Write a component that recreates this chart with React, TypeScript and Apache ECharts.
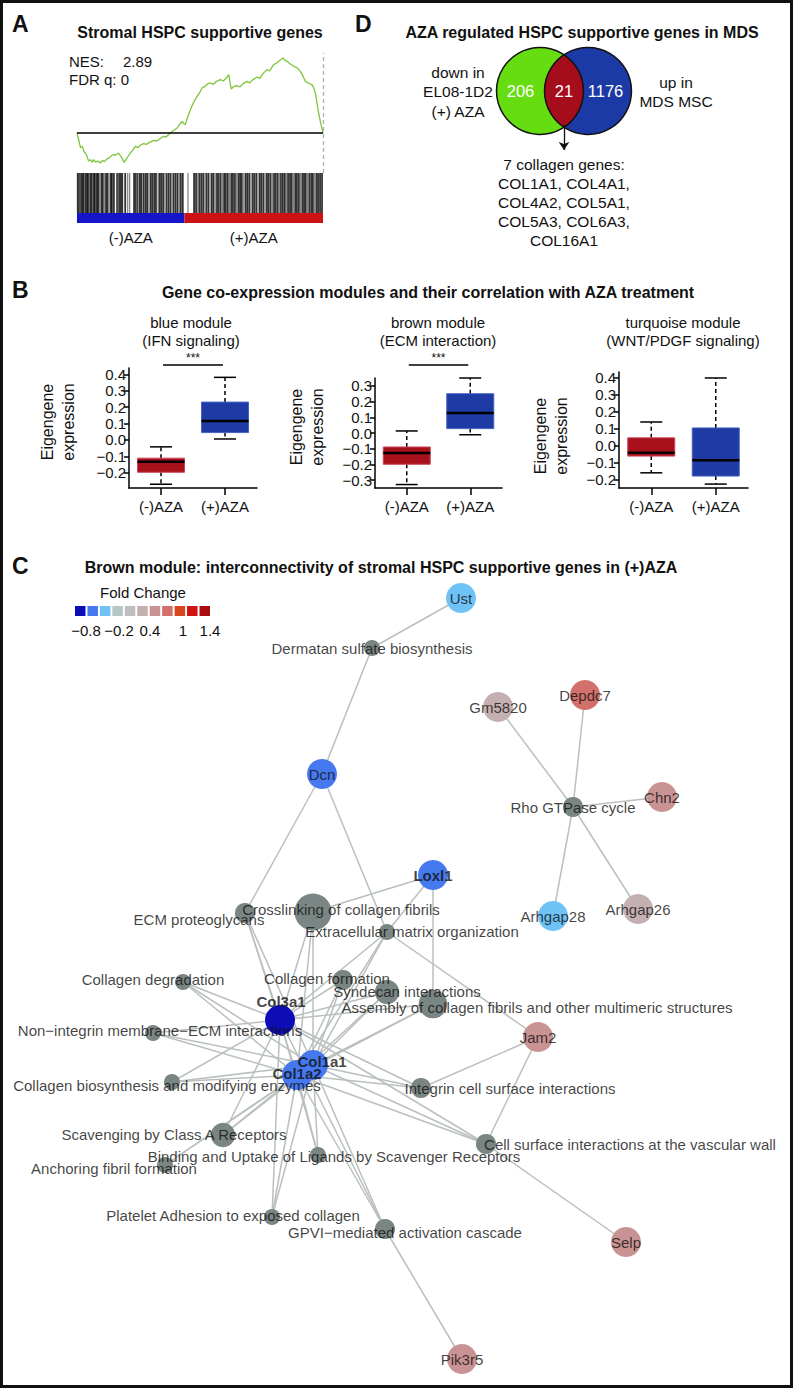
import React, { useEffect, useRef } from "react";
import * as echarts from "echarts";

const SANS = '"Liberation Sans", Arial, Helvetica, sans-serif';
const NARROW = '"Liberation Sans Narrow", "Arial Narrow", "Liberation Sans", sans-serif';

// ---------------- Panel A: GSEA running enrichment ----------------
const esRanks = [0, 0.8, 1.4, 2.2, 2.8, 3.4, 4.0, 4.7, 5.5, 6.2, 6.8, 7.6, 8.4, 9.5, 10.4, 11.2, 12.2, 13.2, 14.0, 14.9, 15.8, 16.9, 17.8, 18.6, 19.2, 20.2, 21.7, 22.6, 23.7, 24.8, 25.8, 27.1, 28.2, 29.5, 31.2, 32.4, 33.6, 35.2, 36.2, 37.9, 39.0, 40.7, 41.5, 42.7, 43.4, 44.0, 45.0, 46.1, 47.4, 48.8, 49.8, 50.8, 52.0, 53.2, 54.2, 55.4, 56.5, 58.3, 59.5, 60.6, 61.7, 62.2, 62.7, 63.8, 65.0, 66.2, 67.5, 69.1, 70.2, 71.5, 73.2, 74.3, 75.6, 77.2, 78.3, 79.9, 81.2, 82.5, 83.7, 84.5, 85.4, 86.6, 88.1, 89.4, 90.8, 91.8, 92.8, 94.0, 95.5, 96.2, 96.9, 97.6, 98.2, 99.0, 100];
const esScores = [0, -0.06, -0.11, -0.1, -0.14, -0.15, -0.17, -0.21, -0.2, -0.22, -0.2, -0.22, -0.21, -0.225, -0.205, -0.215, -0.195, -0.185, -0.17, -0.163, -0.165, -0.15, -0.175, -0.2, -0.22, -0.19, -0.15, -0.13, -0.1, -0.11, -0.09, -0.08, -0.085, -0.07, -0.055, -0.06, -0.045, -0.025, -0.03, 0.0, 0.015, 0.0375, 0.06, 0.0875, 0.07, 0.0625, 0.12, 0.175, 0.23, 0.275, 0.3, 0.3375, 0.35, 0.37, 0.375, 0.365, 0.385, 0.4, 0.39, 0.41, 0.4375, 0.38, 0.33, 0.35, 0.355, 0.345, 0.37, 0.3875, 0.375, 0.4, 0.42, 0.41, 0.445, 0.475, 0.465, 0.5125, 0.525, 0.545, 0.5625, 0.545, 0.5375, 0.52, 0.5, 0.49, 0.4625, 0.43, 0.3875, 0.375, 0.3625, 0.34, 0.3, 0.22, 0.15, 0.08, 0];
const hitRanksStrong = [0.3, 0.9, 1.6, 2.2, 2.7, 3.5, 4.1, 4.6, 5.4, 6.0, 6.8, 7.3, 8.1, 8.6, 9.9, 10.5, 11.8, 12.4, 13.7, 14.2, 15.0, 16.3, 17.1, 17.8, 18.4, 19.6, 23.2, 23.9, 24.6, 25.5, 26.1, 27.0, 27.8, 28.5, 29.9, 30.6, 31.4, 32.1, 33.5, 34.2, 35.0, 36.4, 37.2, 38.0, 39.3, 40.1, 40.9, 42.2, 43.0, 47.6, 48.4, 49.7, 50.5, 51.3, 52.6, 53.4, 54.8, 55.5, 56.9, 57.6, 58.4, 59.8, 60.5, 61.3, 62.7, 63.4, 64.2, 65.6, 66.3, 67.0, 68.5, 69.2, 70.0, 71.4, 72.1, 72.9, 74.3, 75.0, 75.8, 77.2, 77.9, 78.7, 80.1, 80.8, 81.6, 82.9, 83.7, 84.5, 85.8, 86.6, 87.3, 88.7, 89.4, 90.2, 91.6, 92.3, 93.0, 94.4, 95.2, 95.9, 97.3, 98.0, 98.8, 99.6];
const hitRanksWeak = [1.2, 5.0, 9.2, 11.1, 13.0, 16.7, 20.6, 21.4, 24.2, 29.2, 33.0, 35.7, 38.7, 41.6, 45.1, 49.1, 52.0, 54.1, 56.2, 59.1, 62.0, 64.9, 67.8, 70.7, 73.6, 76.5, 79.4, 82.3, 85.1, 88.0, 90.9, 93.7, 96.6];
const phenotypeLabels = ["(-)AZA", "(+)AZA"];
const phenotypeBounds = [0, 43.7, 100];
const nesText = "2.89";
const fdrText = "0";

// ---------------- Panel D: Venn ----------------
const vennCounts = [206, 21, 1176];
const vennLeftLabel = ["down in", "EL08-1D2", "(+) AZA"];
const vennRightLabel = ["up in", "MDS MSC"];
const collagenGenes = ["COL1A1", "COL4A1", "COL4A2", "COL5A1", "COL5A3", "COL6A3", "COL16A1"];

// ---------------- Panel B: module eigengene boxplots ----------------
const boxCategories = ["(-)AZA", "(+)AZA"];
const moduleTitles = [
  ["blue module", "(IFN signaling)"],
  ["brown module", "(ECM interaction)"],
  ["turquoise module", "(WNT/PDGF signaling)"],
];
const moduleSignificance = ["***", "***", ""];
// [min, Q1, median, Q3, max]
const blueModuleBox = [
  [-0.27, -0.197, -0.133, -0.111, -0.042],
  [0.006, 0.045, 0.116, 0.231, 0.382],
];
const brownModuleBox = [
  [-0.328, -0.199, -0.127, -0.089, 0.013],
  [-0.011, 0.028, 0.127, 0.25, 0.35],
];
const turquoiseModuleBox = [
  [-0.158, -0.06, -0.041, 0.047, 0.14],
  [-0.224, -0.177, -0.084, 0.105, 0.398],
];
const blueTicks = [-0.2, -0.1, 0, 0.1, 0.2, 0.3, 0.4];
const brownTicks = [-0.3, -0.2, -0.1, 0, 0.1, 0.2, 0.3];
const turquoiseTicks = [-0.2, -0.1, 0, 0.1, 0.2, 0.3, 0.4];

// ---------------- Panel C: network ----------------
const foldChangeLegendLabels = ["\u22120.8", "\u22120.2", "0.4", "1", "1.4"];
const geneNodes = [
  { name: "Ust", x: 461, y: 598, fc: -0.41 },
  { name: "Dcn", x: 322, y: 774, fc: -0.58 },
  { name: "Gm5820", x: 498, y: 707, fc: 0.18 },
  { name: "Depdc7", x: 585, y: 695, fc: 0.63 },
  { name: "Chn2", x: 662, y: 797, fc: 0.39 },
  { name: "Arhgap28", x: 553, y: 916, fc: -0.38 },
  { name: "Arhgap26", x: 638, y: 909, fc: 0.21 },
  { name: "Loxl1", x: 433, y: 875, fc: -0.61 },
  { name: "Jam2", x: 538, y: 1037, fc: 0.42 },
  { name: "Selp", x: 626, y: 1242, fc: 0.37 },
  { name: "Pik3r5", x: 462, y: 1359, fc: 0.4 },
  { name: "Col3a1", x: 280, y: 1020, fc: -0.82 },
  { name: "Col1a1", x: 313, y: 1065, fc: -0.55 },
  { name: "Col1a2", x: 297, y: 1075, fc: -0.57 },
];
const pathwayNodes = [
  { name: "Dermatan sulfate biosynthesis", x: 372, y: 648, genes: 1 },
  { name: "Rho GTPase cycle", x: 573, y: 807, genes: 2 },
  { name: "ECM proteoglycans", x: 245, y: 913, genes: 2 },
  { name: "Crosslinking of collagen fibrils", x: 313, y: 912, genes: 6 },
  { name: "Extracellular matrix organization", x: 387, y: 932, genes: 1 },
  { name: "Collagen degradation", x: 183, y: 982, genes: 1 },
  { name: "Collagen formation", x: 343, y: 980, genes: 2 },
  { name: "Syndecan interactions", x: 387, y: 992, genes: 3 },
  { name: "Assembly of collagen fibrils and other multimeric structures", x: 433, y: 1004, genes: 4 },
  { name: "Non\u2212integrin membrane\u2212ECM interactions", x: 153, y: 1033, genes: 1 },
  { name: "Collagen biosynthesis and modifying enzymes", x: 172, y: 1082, genes: 1 },
  { name: "Integrin cell surface interactions", x: 421, y: 1088, genes: 2 },
  { name: "Scavenging by Class A Receptors", x: 223, y: 1135, genes: 3 },
  { name: "Binding and Uptake of Ligands by Scavenger Receptors", x: 318, y: 1155, genes: 1 },
  { name: "Anchoring fibril formation", x: 165, y: 1165, genes: 1 },
  { name: "Cell surface interactions at the vascular wall", x: 486, y: 1144, genes: 2 },
  { name: "Platelet Adhesion to exposed collagen", x: 272, y: 1217, genes: 1 },
  { name: "GPVI\u2212mediated activation cascade", x: 385, y: 1229, genes: 2 },
];
const collagenPathways = [
  "ECM proteoglycans", "Crosslinking of collagen fibrils", "Extracellular matrix organization",
  "Collagen degradation", "Collagen formation", "Syndecan interactions",
  "Assembly of collagen fibrils and other multimeric structures",
  "Non\u2212integrin membrane\u2212ECM interactions", "Collagen biosynthesis and modifying enzymes",
  "Integrin cell surface interactions", "Scavenging by Class A Receptors",
  "Binding and Uptake of Ligands by Scavenger Receptors", "Platelet Adhesion to exposed collagen",
  "GPVI\u2212mediated activation cascade", "Cell surface interactions at the vascular wall",
];
const otherEdges = [
  ["Ust", "Dermatan sulfate biosynthesis"],
  ["Dcn", "Dermatan sulfate biosynthesis"],
  ["Dcn", "ECM proteoglycans"],
  ["Dcn", "Extracellular matrix organization"],
  ["Loxl1", "Crosslinking of collagen fibrils"],
  ["Loxl1", "Extracellular matrix organization"],
  ["Loxl1", "Assembly of collagen fibrils and other multimeric structures"],
  ["Rho GTPase cycle", "Gm5820"],
  ["Rho GTPase cycle", "Depdc7"],
  ["Rho GTPase cycle", "Chn2"],
  ["Rho GTPase cycle", "Arhgap28"],
  ["Rho GTPase cycle", "Arhgap26"],
  ["Jam2", "Extracellular matrix organization"],
  ["Jam2", "Integrin cell surface interactions"],
  ["Jam2", "Cell surface interactions at the vascular wall"],
  ["Selp", "Cell surface interactions at the vascular wall"],
  ["Pik3r5", "GPVI\u2212mediated activation cascade"],
  ["Col1a1", "Anchoring fibril formation"],
  ["Col1a2", "Anchoring fibril formation"],
];
const collagenGeneNames = ["Col1a1", "Col1a2", "Col3a1"];
const boldGenes = ["Loxl1", "Col3a1", "Col1a1", "Col1a2"];

// ---------------- layout / style (not data) ----------------
const PALETTE = ["#0d0db8", "#4678ef", "#6fc2f6", "#b6c5c6", "#bfbdbd", "#c5b0b1", "#c99393", "#d2716c", "#d9461c", "#d01212", "#a80c0c"];
const PATHWAY_GRAY = "#7a8683";
const EDGE_GRAY = "#b9c0bd";
const labelOffsets: Record<string, number[]> = {
  "ECM proteoglycans": [-46, 6],
  "Crosslinking of collagen fibrils": [28, -3],
  "Extracellular matrix organization": [25, -1],
  "Collagen degradation": [-30, -3],
  "Collagen formation": [-16, -2],
  "Syndecan interactions": [20, -1],
  "Assembly of collagen fibrils and other multimeric structures": [104, 3],
  "Non\u2212integrin membrane\u2212ECM interactions": [7, -3],
  "Collagen biosynthesis and modifying enzymes": [-5, 3],
  "Integrin cell surface interactions": [89, 0],
  "Scavenging by Class A Receptors": [-49, -1],
  "Binding and Uptake of Ligands by Scavenger Receptors": [16, 1],
  "Anchoring fibril formation": [-51, 3],
  "Cell surface interactions at the vascular wall": [144, 0],
  "Platelet Adhesion to exposed collagen": [-39, -2],
  "GPVI\u2212mediated activation cascade": [20, 3],
  Col3a1: [1, -19],
  Col1a1: [9, -4],
  Col1a2: [0, -2],
};

function fcColor(fc: number) {
  const bin = Math.max(0, Math.min(10, Math.round((fc + 0.8) / 0.2)));
  return PALETTE[bin];
}
function pathwayRadius(n: number) {
  return 8 + 2.1 * (n - 1);
}
function tickFmt(v: number) {
  return (v < -1e-9 ? "\u2212" : "") + Math.abs(v).toFixed(1);
}

function txt(x: number, y: number, text: string, size = 15, opts: any = {}) {
  return {
    type: "text",
    x,
    y,
    rotation: opts.rotation || 0,
    z: 50,
    style: {
      text,
      font: `${opts.weight || "normal"} ${size}px ${opts.family || SANS}`,
      fill: opts.fill || "#111",
      textAlign: opts.align || "center",
      textVerticalAlign: "middle",
      lineHeight: opts.lineHeight,
    },
  };
}

function boxRenderItem(params: any, api: any) {
  const ci = api.value(0);
  const vals = [1, 2, 3, 4, 5].map((i) => api.value(i));
  const [mn, q1, md, q3, mx] = vals;
  const xc = api.coord([ci, md])[0];
  const y = (v: number) => api.coord([ci, v])[1];
  const hw = 23.5;
  const cw = 11;
  const fill = ci === 0 ? "#a8111c" : "#1d3aa5";
  const stroke = ci === 0 ? "#c8475a" : "#4761c2";
  const solid = { stroke: "#000", lineWidth: 1.5 };
  const dashed = { stroke: "#000", lineWidth: 1.5, lineDash: [4, 3] };
  return {
    type: "group",
    children: [
      { type: "line", shape: { x1: xc, y1: y(q3), x2: xc, y2: y(mx) }, style: dashed },
      { type: "line", shape: { x1: xc, y1: y(q1), x2: xc, y2: y(mn) }, style: dashed },
      { type: "line", shape: { x1: xc - cw, y1: y(mx), x2: xc + cw, y2: y(mx) }, style: solid },
      { type: "line", shape: { x1: xc - cw, y1: y(mn), x2: xc + cw, y2: y(mn) }, style: solid },
      { type: "rect", shape: { x: xc - hw, y: y(q3), width: 2 * hw, height: y(q1) - y(q3) }, style: { fill, stroke, lineWidth: 1 } },
      { type: "line", shape: { x1: xc - hw, y1: y(md), x2: xc + hw, y2: y(md) }, style: { stroke: "#000", lineWidth: 2.5 } },
    ],
  };
}

export default function App() {
  const ref = useRef<HTMLDivElement>(null);
  useEffect(() => {
    if (!ref.current) return;
    const chart = echarts.init(ref.current, undefined, { renderer: "svg" });

    const boxModules = [blueModuleBox, brownModuleBox, turquoiseModuleBox];
    const boxTicks = [blueTicks, brownTicks, turquoiseTicks];
    const boxGrids = [
      { left: 129, top: 368, width: 128, height: 120 },
      { left: 375, top: 378, width: 127, height: 110 },
      { left: 619, top: 372, width: 129, height: 116 },
    ];
    const boxRanges = [
      [-0.293, 0.439],
      [-0.35, 0.35],
      [-0.247, 0.433],
    ];
    const boxTitleX = [191, 438, 683];
    const yLabelPos = [
      [58, 422],
      [307, 427],
      [551, 436],
    ];

    const grids: any[] = [
      { left: 0, top: 0, width: 794, height: 1388 },
      { left: 77, top: 53, width: 246, height: 120 },
      { left: 77, top: 173, width: 246, height: 40 },
      { left: 77, top: 213, width: 246, height: 10 },
      ...boxGrids,
    ];
    const xAxes: any[] = [
      { gridIndex: 0, type: "value", min: 0, max: 794, show: false },
      { gridIndex: 1, type: "value", min: 0, max: 100, show: false },
      { gridIndex: 2, type: "value", min: 0, max: 100, show: false },
      { gridIndex: 3, type: "value", min: 0, max: 100, show: false },
    ];
    const yAxes: any[] = [
      { gridIndex: 0, type: "value", min: 0, max: 1388, inverse: true, show: false },
      { gridIndex: 1, type: "value", min: -0.3, max: 0.6, show: false },
      { gridIndex: 2, type: "value", min: 0, max: 1, show: false },
      { gridIndex: 3, type: "value", min: 0, max: 1, show: false },
    ];
    boxGrids.forEach((g, i) => {
      xAxes.push({
        gridIndex: 4 + i,
        type: "category",
        data: boxCategories,
        position: "bottom",
        axisLine: { show: true, onZero: false, lineStyle: { color: "#000", width: 1.5 } },
        axisTick: { show: true, alignWithLabel: true, length: 7, lineStyle: { color: "#000", width: 1.5 } },
        axisLabel: { color: "#111", fontSize: 15, fontFamily: SANS, margin: 11 },
        splitLine: { show: false },
      });
      yAxes.push({
        gridIndex: 4 + i,
        type: "value",
        min: boxRanges[i][0],
        max: boxRanges[i][1],
        axisLine: { show: true, onZero: false, lineStyle: { color: "#000", width: 1.5 } },
        axisTick: { show: true, inside: false, length: 5, lineStyle: { color: "#000", width: 1.5 }, customValues: boxTicks[i] },
        axisLabel: { color: "#111", fontSize: 15, fontFamily: SANS, margin: 3, customValues: boxTicks[i], formatter: (v: number) => tickFmt(v) },
        splitLine: { show: false },
      });
    });

    const series: any[] = [];

    // Panel A
    series.push({
      type: "line",
      xAxisIndex: 1,
      yAxisIndex: 1,
      data: esRanks.map((r, i) => [r, esScores[i]]),
      showSymbol: false,
      lineStyle: { color: "#7cc63a", width: 1.3 },
      z: 3,
      markLine: {
        silent: true,
        symbol: "none",
        label: { show: false },
        data: [
          { yAxis: 0, lineStyle: { color: "#000", width: 1.5, type: "solid" } },
          { xAxis: 100, lineStyle: { color: "#b0b0b0", width: 1.3, type: [4, 3] } },
        ],
      },
    });
    series.push({
      type: "scatter",
      xAxisIndex: 2,
      yAxisIndex: 2,
      data: hitRanksStrong.map((r) => [r, 0.5]),
      symbol: "rect",
      symbolSize: [1.8, 40],
      itemStyle: { color: "#000" },
      silent: true,
    });
    series.push({
      type: "scatter",
      xAxisIndex: 2,
      yAxisIndex: 2,
      data: hitRanksWeak.map((r) => [r, 0.5]),
      symbol: "rect",
      symbolSize: [1.3, 40],
      itemStyle: { color: "#6a6a6a" },
      silent: true,
    });
    series.push({
      type: "custom",
      xAxisIndex: 3,
      yAxisIndex: 3,
      data: phenotypeLabels.map((l, i) => [phenotypeBounds[i], phenotypeBounds[i + 1], i]),
      renderItem: (params: any, api: any) => {
        const p0 = api.coord([api.value(0), 1]);
        const p1 = api.coord([api.value(1), 0]);
        const i = api.value(2);
        return {
          type: "group",
          children: [
            { type: "rect", shape: { x: p0[0], y: p0[1], width: p1[0] - p0[0], height: p1[1] - p0[1] }, style: { fill: i === 0 ? "#1414c8" : "#cc1212" } },
            { type: "text", x: (p0[0] + p1[0]) / 2, y: p1[1] + 14, style: { text: phenotypeLabels[i], font: `15px ${SANS}`, fill: "#111", textAlign: "center", textVerticalAlign: "middle" } },
          ],
        };
      },
      silent: true,
    });

    // Panel B
    boxModules.forEach((mod, i) => {
      series.push({
        type: "custom",
        xAxisIndex: 4 + i,
        yAxisIndex: 4 + i,
        data: mod.map((b, ci) => [ci, ...b]),
        encode: { x: 0, y: [1, 2, 3, 4, 5] },
        renderItem: boxRenderItem,
        silent: true,
      });
    });

    // Panel D venn
    const venn = { cx1: 540, cx2: 588, cy: 91, r: 43.5 };
    series.push({
      type: "custom",
      xAxisIndex: 0,
      yAxisIndex: 0,
      data: [vennCounts],
      renderItem: (params: any, api: any) => {
        const c1 = api.coord([venn.cx1, venn.cy]);
        const c2 = api.coord([venn.cx2, venn.cy]);
        const r = venn.r;
        const a = (c2[0] - c1[0]) / 2;
        const h = Math.sqrt(r * r - a * a);
        const th = Math.atan2(h, a);
        const pts: number[][] = [];
        for (let k = 0; k <= 40; k++) {
          const t = -th + (2 * th * k) / 40;
          pts.push([c1[0] + r * Math.cos(t), c1[1] + r * Math.sin(t)]);
        }
        for (let k = 0; k <= 40; k++) {
          const t = Math.PI - th + (2 * th * k) / 40;
          pts.push([c2[0] + r * Math.cos(t), c2[1] + r * Math.sin(t)]);
        }
        const numFont = `16.5px ${SANS}`;
        return {
          type: "group",
          children: [
            { type: "circle", shape: { cx: c1[0], cy: c1[1], r }, style: { fill: "#66dd11" } },
            { type: "circle", shape: { cx: c2[0], cy: c2[1], r }, style: { fill: "#1c3aa6" } },
            { type: "polygon", shape: { points: pts }, style: { fill: "#a50d1d" } },
            { type: "circle", shape: { cx: c1[0], cy: c1[1], r }, style: { fill: "none", stroke: "#111", lineWidth: 1.5 } },
            { type: "circle", shape: { cx: c2[0], cy: c2[1], r }, style: { fill: "none", stroke: "#111", lineWidth: 1.5 } },
            { type: "text", x: (c1[0] - r + c2[0] - r) / 2, y: c1[1], style: { text: String(api.value(0)), font: numFont, fill: "#fff", textAlign: "center", textVerticalAlign: "middle" } },
            { type: "text", x: (c1[0] + c2[0]) / 2, y: c1[1], style: { text: String(api.value(1)), font: numFont, fill: "#fff", textAlign: "center", textVerticalAlign: "middle" } },
            { type: "text", x: (c1[0] + r + c2[0] + r) / 2 - 2, y: c1[1], style: { text: String(api.value(2)), font: numFont, fill: "#fff", textAlign: "center", textVerticalAlign: "middle" } },
          ],
        };
      },
      silent: true,
    });
    series.push({
      type: "lines",
      coordinateSystem: "cartesian2d",
      xAxisIndex: 0,
      yAxisIndex: 0,
      data: [{ coords: [[564, 125], [564, 150]] }],
      symbol: ["none", "arrow"],
      symbolSize: [0, 8],
      lineStyle: { color: "#111", width: 1.3, opacity: 1 },
      silent: true,
    });

    // Panel C network
    const nodes: any[] = [
      ...pathwayNodes.map((p) => ({
        name: p.name,
        value: [p.x, p.y],
        symbolSize: 2 * pathwayRadius(p.genes),
        itemStyle: { color: PATHWAY_GRAY },
      })),
      ...geneNodes.map((g) => ({
        name: g.name,
        value: [g.x, g.y],
        symbolSize: 30,
        itemStyle: { color: fcColor(g.fc) },
      })),
    ];
    const links: any[] = [];
    collagenGeneNames.forEach((g) => collagenPathways.forEach((p) => links.push({ source: g, target: p })));
    otherEdges.forEach(([s, t]) => links.push({ source: s, target: t }));
    series.push({
      type: "graph",
      layout: "none",
      coordinateSystem: "cartesian2d",
      xAxisIndex: 0,
      yAxisIndex: 0,
      data: nodes,
      links,
      symbol: "circle",
      label: { show: false },
      lineStyle: { color: EDGE_GRAY, width: 1.5, opacity: 1, curveness: 0 },
      emphasis: { disabled: true },
      silent: true,
      z: 4,
    });
    const labelData = [
      ...pathwayNodes.map((p) => ({ name: p.name, value: [p.x, p.y], bold: false })),
      ...geneNodes.map((g) => ({ name: g.name, value: [g.x, g.y], bold: boldGenes.includes(g.name) })),
    ].map((d) => ({
      name: d.name,
      value: d.value,
      label: {
        show: true,
        position: "inside",
        formatter: "{b}",
        offset: labelOffsets[d.name] || [0, 0],
        fontWeight: d.bold ? "bold" : "normal",
        fontSize: 15,
        fontFamily: SANS,
        color: "#111",
      },
    }));
    series.push({
      type: "scatter",
      xAxisIndex: 0,
      yAxisIndex: 0,
      data: labelData,
      symbolSize: 1,
      itemStyle: { color: "rgba(0,0,0,0)" },
      silent: true,
      z: 10,
    });

    // graphic texts
    const graphic: any[] = [
      { type: "rect", shape: { x: 1.5, y: 1.5, width: 790, height: 1385 }, style: { fill: "none", stroke: "#111", lineWidth: 3 }, z: 60 },
      txt(12, 24, "A", 23, { weight: "bold", align: "left" }),
      txt(200, 32, "Stromal HSPC supportive genes", 16, { weight: "bold" }),
      txt(69, 61, "NES:", 15, { align: "left" }),
      txt(123, 61, nesText, 15, { align: "left" }),
      txt(69, 79, "FDR q: " + fdrText, 15, { align: "left" }),
      txt(355, 24, "D", 23, { weight: "bold", align: "left" }),
      txt(582, 32, "AZA regulated HSPC supportive genes in MDS", 16, { weight: "bold" }),
      txt(12, 290, "B", 23, { weight: "bold", align: "left" }),
      txt(428, 292, "Gene co-expression modules and their correlation with AZA treatment", 16, { weight: "bold" }),
      txt(12, 566, "C", 23, { weight: "bold", align: "left" }),
      txt(381, 567, "Brown module: interconnectivity of stromal HSPC supportive genes in (+)AZA", 16, { weight: "bold" }),
      txt(143, 592, "Fold Change", 15),
    ];
    vennLeftLabel.forEach((l, i) => graphic.push(txt(458, 72 + i * 19.5, l, 15.5)));
    vennRightLabel.forEach((l, i) => graphic.push(txt(676, 82 + i * 19.5, l, 15.5)));
    const collagenLines = [`${collagenGenes.length} collagen genes:`];
    for (let i = 0; i < collagenGenes.length; i += 2) {
      const pair = collagenGenes.slice(i, i + 2);
      collagenLines.push(pair.join(", ") + (i + 2 < collagenGenes.length ? "," : ""));
    }
    collagenLines.forEach((l, i) => graphic.push(txt(564, 164 + i * 19, l, 15.5)));

    moduleTitles.forEach((t, i) => {
      const g = boxGrids[i];
      graphic.push(txt(boxTitleX[i], 322, t[0], 15));
      graphic.push(txt(boxTitleX[i], 340, t[1], 15));
      graphic.push(txt(yLabelPos[i][0], yLabelPos[i][1], "Eigengene\nexpression", 16, { family: NARROW, rotation: Math.PI / 2, lineHeight: 21 }));
      if (moduleSignificance[i]) {
        const x1 = g.left + g.width * 0.25 + 2;
        const x2 = g.left + g.width * 0.75 - 2;
        graphic.push({ type: "line", shape: { x1, y1: 365, x2, y2: 365 }, style: { stroke: "#000", lineWidth: 1.5 }, z: 50 });
        graphic.push(txt((x1 + x2) / 2, 358, moduleSignificance[i], 12));
      }
    });

    // Fold change legend
    PALETTE.forEach((c, i) => {
      graphic.push({ type: "rect", shape: { x: 75 + i * 12.45, y: 606, width: 10.5, height: 10 }, style: { fill: c }, z: 50 });
    });
    const legendLabelX = [86, 119, 150, 183, 210];
    foldChangeLegendLabels.forEach((l, i) => graphic.push(txt(legendLabelX[i], 630, l, 15, { family: NARROW })));

    chart.setOption({
      animation: false,
      backgroundColor: "#fff",
      grid: grids,
      xAxis: xAxes,
      yAxis: yAxes,
      series,
      graphic,
    });
    return () => chart.dispose();
  }, []);
  return <div ref={ref} style={{ position: "fixed", left: 0, top: 0, width: 794, height: 1388, background: "#fff" }} />;
}
